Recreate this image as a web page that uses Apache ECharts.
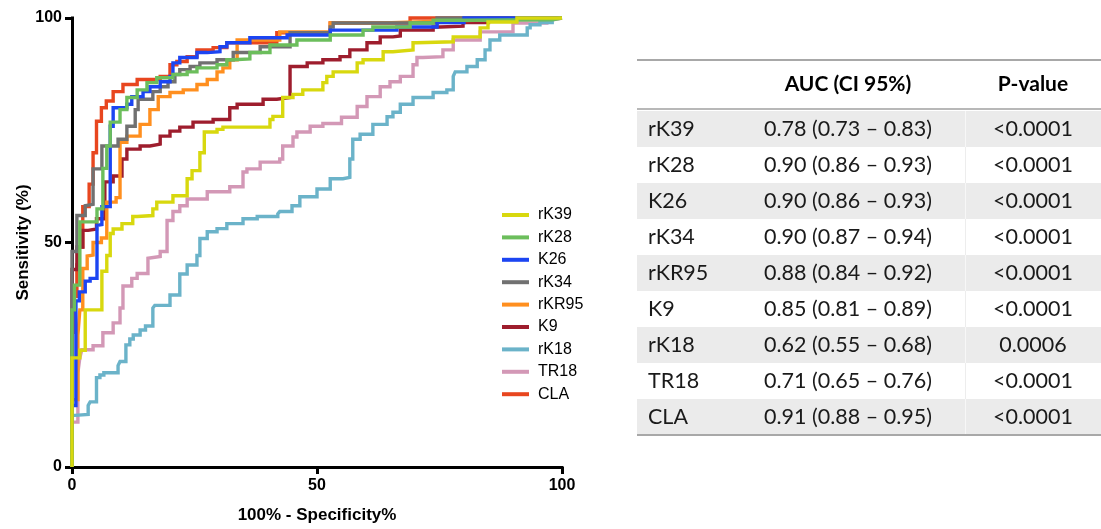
<!DOCTYPE html>
<html><head><meta charset="utf-8">
<script src="https://cdn.jsdelivr.net/npm/echarts@6/dist/echarts.min.js"></script>
<style>html,body{margin:0;padding:0;background:#fff}#c{width:1101px;height:529px}</style>
</head><body><div id="c"></div>
<script>
// ---- data ----
const seriesNames = ['rK39','rK28','K26','rK34','rKR95','K9','rK18','TR18','CLA'];
const seriesColors = ['#D8D80E','#6CBE5C','#1C45F2','#717171','#FF8F1F','#9E1D2D','#6BB3C9','#D398B6','#E8461F'];

const rK39 = [[0,0],[0,22.8],[1.6,24.3],[1.6,26],[2.7,26],[2.7,35],[6.1,35],[6.1,43],[7.1,43.6],[7.8,47.1],[8.4,52],[10.2,53],[12.4,54.2],[13.3,55.8],[16.5,56],[17.3,57.5],[20.6,59],[23.5,60.4],[24.5,64.2],[26.1,66],[26.1,68.6],[27,70],[29.6,74.6],[30.8,75.2],[32.2,75.7],[40.4,75.7],[41,77.4],[43,78.1],[45.1,82.3],[47.1,83],[51.2,84],[52,85.6],[53.3,87],[58.2,88],[59.4,90],[63.5,90.7],[65.5,92.5],[69.6,92.9],[70.4,94.5],[77.8,94.7],[83.3,95.8],[84.9,97.8],[90.8,99.1],[92,100],[100,100]];
const rK28 = [[0,0],[0,25],[0.5,35],[0.5,40.5],[1.6,40.5],[1.6,53],[3.1,54.6],[5.1,54.6],[5.1,57.5],[6.3,57.5],[6.3,65.7],[7.1,66.5],[7.8,71.5],[9.8,76.8],[11.2,79.6],[13.3,82.3],[15.3,84],[17.3,85.6],[20.6,86.7],[23.5,87.4],[25.5,88],[29.6,88.9],[31.6,89.6],[32.9,90.7],[36.3,90.9],[40.4,92.3],[45.9,94],[52.7,95.1],[59.4,96.2],[61.4,97.3],[69,98],[73.7,98.9],[80,99.5],[98,99.6],[100,100]];
const K26 = [[0,0],[0,13.7],[0.8,13.7],[0.8,35],[1.5,37],[2.7,39],[3.7,41.4],[5.1,42],[5.1,53.8],[6.1,54],[7.8,58],[7.8,66.4],[8.4,75.9],[11.2,80],[12.2,80.8],[14.5,82.5],[15.9,83.6],[18,84.7],[20,85.8],[20.6,87],[22,90],[25.5,91.2],[27.6,92.3],[30.2,92.5],[31.6,93.6],[36.3,94.5],[43.9,95.6],[52.7,96.2],[66.3,97.3],[67,98],[74.5,98],[80,99],[86.7,100],[100,100]];
const rK34 = [[0,0],[0,48],[1,48],[1,56],[2.7,56],[2.7,58.2],[4.3,58.5],[4.3,64.8],[6.1,66.4],[6.1,68.6],[9.4,71.5],[11.2,73],[12.9,75.9],[13.5,79.6],[14.5,81.9],[16.5,81.9],[18,83.6],[19.6,84.7],[21,85.8],[22,87.4],[24.1,88.5],[26.1,89.2],[29.6,90],[32.9,90.7],[38.4,92.3],[44.5,93.6],[52.7,96.7],[53.3,98],[69,98.9],[74.5,98.9],[75.1,100],[100,100]];
const rKR95 = [[0,0],[0,15],[1.2,15],[1.2,29.4],[1.6,29.4],[1.6,35],[2.2,35],[2.2,44.2],[3.1,44.2],[3.1,47],[4.3,47.2],[4.3,48.7],[6,50],[7.1,51],[7.1,58.2],[9,59],[9.8,60],[9.8,69.2],[11.2,72.3],[13.9,73.7],[15.9,76.3],[17.6,79.6],[20,82.5],[22.7,83.4],[25.5,84],[27.6,85.2],[29.6,86.3],[30.8,88],[32.2,88.9],[33.7,90.7],[33.7,92.5],[42.4,95.1],[52.7,96.9],[63.5,98.9],[75,99.3],[87,99.6],[90,100],[100,100]];
const K9 = [[0,0],[0,44],[1,44],[1,48],[2.2,49],[2.2,51],[3.3,52.7],[5,53],[6.7,55.3],[6.7,60],[8.4,63.5],[10.2,64.8],[10.2,66.4],[11.2,68.6],[13.9,70.8],[15.9,71.5],[18,71.9],[20,73.7],[22,74.8],[24.7,75.7],[28.8,76.8],[32.2,77.4],[33.7,80],[39,80.8],[41.8,81.9],[44.5,82.3],[44.5,87.4],[48,89.2],[51.2,90],[54.7,90.7],[56.7,91.4],[60.2,92.9],[62.9,94.5],[65.5,95.8],[67,96],[73.7,97.3],[75.1,98],[79.8,98.2],[85,99],[90,100],[100,100]];
const rK18 = [[0,0],[0,9.5],[0.6,11.5],[3.3,11.7],[3.7,13.7],[5,14.5],[5.7,19.9],[6.5,20.5],[9.4,21],[9.8,22.6],[11,23.5],[11.8,27.2],[12.5,28.5],[13.9,29.4],[15,30.5],[16.5,31.4],[16.9,35.4],[20,36],[22,38.3],[23.5,43],[25.5,45],[26.1,47.1],[27.6,50.9],[29.6,52.4],[31.6,53.1],[34.9,54.2],[37.8,55.3],[42,55.8],[42.4,56.4],[44.9,56.9],[46.5,58.2],[50,60.2],[52.7,61.9],[55.3,64.2],[56.7,64.5],[56.7,67],[57.3,68.6],[57.3,71.5],[58.8,73],[61.4,74.1],[64.3,76.3],[65.5,78],[67,79],[69.6,80.8],[73.7,82.3],[76.5,83.4],[77.8,84],[78.2,87],[80.6,88],[82.7,89.2],[84.3,90.7],[85.3,92.9],[87.3,95.1],[90,96.2],[92.9,96.2],[93.5,97.8],[95.5,98.5],[98,99],[100,100]];
const TR18 = [[0,0],[0,10],[1.2,10],[1.2,14.8],[1.6,21],[2,24.3],[2.7,26.1],[4.3,26.1],[6.3,27],[8.4,29.9],[9.8,32.1],[10.4,35.4],[10.4,38.3],[12.2,40.3],[13.3,42],[15.5,43.1],[15.9,46.5],[18,46.9],[19.4,48],[19.4,53.8],[20.6,54.9],[22,56.9],[23.5,58.2],[27.6,59.7],[30.8,61.3],[32.2,61.3],[34.9,62.4],[35.7,65.7],[38.4,66.4],[42.4,67.9],[43,68.6],[45.1,71.5],[45.9,73.5],[48.6,74.6],[51.2,75.9],[55,76.5],[58.2,77.9],[60.2,80.3],[62.9,82.5],[64.9,84.7],[67,85.8],[69.6,87],[70.4,89.6],[71.6,91.2],[75.7,91.4],[77.8,92.9],[83.3,95.1],[90,96.9],[90,98],[96.9,98.9],[98.2,99.6],[100,100]];
const CLA = [[0,0],[0,15],[0.5,30],[1,38],[1.5,45],[2.2,49],[2.2,57],[3.5,58],[4.3,63],[4.3,68],[5,70],[6,77],[7,80],[8.4,81.5],[10.4,83.6],[13.3,85.2],[18,86.3],[20,87],[21.4,89.6],[23.5,90.3],[25.5,91.4],[28.8,92.9],[31.6,93.4],[35.7,94.5],[41.8,94.5],[47,96.7],[52.7,96.7],[63,98.9],[69,98.9],[75,100],[100,100]];
const seriesData = [rK39, rK28, K26, rK34, rKR95, K9, rK18, TR18, CLA];

const tableHeader = ['', 'AUC (CI 95%)', 'P-value'];
const tableNames = ['rK39','rK28','K26','rK34','rKR95','K9','rK18','TR18','CLA'];
const aucValues = ['0.78 (0.73 \u2013 0.83)','0.90 (0.86 \u2013 0.93)','0.90 (0.86 \u2013 0.93)','0.90 (0.87 \u2013 0.94)','0.88 (0.84 \u2013 0.92)','0.85 (0.81 \u2013 0.89)','0.62 (0.55 \u2013 0.68)','0.71 (0.65 \u2013 0.76)','0.91 (0.88 \u2013 0.95)'];
const pValues = ['<0.0001','<0.0001','<0.0001','<0.0001','<0.0001','<0.0001','0.0006','<0.0001','<0.0001'];

// ---- chart ----
const chart = echarts.init(document.getElementById('c'), null, {renderer: 'canvas'});
const axisFont = 'Liberation Sans, Arial, Helvetica, sans-serif';
const tableFont = 'Lato, "Open Sans", sans-serif';

const series = [];
for (let i = seriesNames.length - 1; i >= 0; i--) {
  series.push({
    name: seriesNames[i], type: 'line', data: seriesData[i], step: 'start',
    symbol: 'none', clip: false, color: seriesColors[i],
    lineStyle: {width: 3.4, color: seriesColors[i], join: 'miter'},
    emphasis: {disabled: true}, z: 10 + (seriesNames.length - i)
  });
}

// table graphic
const tX = 637, tW = 464, rowTop = 111, rowH = 36, headTop = 60;
const colNameX = 648, colAucX = 848, colPX = 1033, divX = 965;
const bodyFont = '21.5px ' + tableFont;
const graphics = [];
tableNames.forEach((n, i) => {
  const y = rowTop + i * rowH;
  if (i % 2 === 0) {
    graphics.push({type: 'rect', shape: {x: tX, y: y, width: tW, height: rowH}, style: {fill: '#EBEBEB'}, silent: true});
  }
  graphics.push({type: 'rect', shape: {x: divX, y: y, width: 1, height: rowH}, style: {fill: i % 2 === 0 ? '#F7F7F7' : '#EDEDED'}, silent: true});
  graphics.push({type: 'text', x: colNameX, y: y + rowH / 2, style: {text: n, font: bodyFont, fill: '#1a1a1a', textAlign: 'left', textVerticalAlign: 'middle'}, silent: true});
  graphics.push({type: 'text', x: colAucX, y: y + rowH / 2, style: {text: aucValues[i], font: bodyFont, fill: '#1a1a1a', textAlign: 'center', textVerticalAlign: 'middle'}, silent: true});
  graphics.push({type: 'text', x: colPX, y: y + rowH / 2, style: {text: pValues[i], font: bodyFont, fill: '#1a1a1a', textAlign: 'center', textVerticalAlign: 'middle'}, silent: true});
});
graphics.push({type: 'rect', shape: {x: tX, y: headTop - 1, width: tW, height: 2}, style: {fill: '#A8A8A8'}, silent: true});
graphics.push({type: 'rect', shape: {x: tX, y: rowTop - 3, width: tW, height: 2}, style: {fill: '#B8B8B8'}, silent: true});
graphics.push({type: 'rect', shape: {x: tX, y: rowTop + tableNames.length * rowH - 1, width: tW, height: 2}, style: {fill: '#A8A8A8'}, silent: true});
graphics.push({type: 'text', x: colAucX, y: 84, style: {text: tableHeader[1], font: 'bold 21px ' + tableFont, fill: '#000', textAlign: 'center', textVerticalAlign: 'middle'}, silent: true});
graphics.push({type: 'text', x: colPX, y: 84, style: {text: tableHeader[2], font: 'bold 21px ' + tableFont, fill: '#000', textAlign: 'center', textVerticalAlign: 'middle'}, silent: true});

const option = {
  animation: false,
  backgroundColor: '#fff',
  grid: {left: 72, right: 539, top: 18, bottom: 59, containLabel: false},
  xAxis: {
    type: 'value', min: 0, max: 100, interval: 50,
    name: '100% - Specificity%', nameLocation: 'middle', nameGap: 40,
    nameTextStyle: {fontFamily: axisFont, fontWeight: 'bold', fontSize: 17, color: '#000'},
    axisLine: {show: true, onZero: false, lineStyle: {color: '#000', width: 3, cap: 'square'}},
    axisTick: {show: true, length: 7, lineStyle: {color: '#000', width: 3}},
    axisLabel: {fontFamily: axisFont, fontWeight: 'bold', fontSize: 16, color: '#000', margin: 11},
    splitLine: {show: false}
  },
  yAxis: {
    type: 'value', min: 0, max: 100, interval: 50,
    name: 'Sensitivity (%)', nameLocation: 'middle', nameGap: 36,
    nameTextStyle: {fontFamily: axisFont, fontWeight: 'bold', fontSize: 17, color: '#000'},
    axisLine: {show: true, onZero: false, lineStyle: {color: '#000', width: 3, cap: 'square'}},
    axisTick: {show: true, length: 7, lineStyle: {color: '#000', width: 3}},
    axisLabel: {fontFamily: axisFont, fontWeight: 'bold', fontSize: 16, color: '#000', margin: 10},
    splitLine: {show: false}
  },
  legend: {
    data: seriesNames, orient: 'vertical', left: 497, top: 202,
    icon: 'rect', itemWidth: 27, itemHeight: 4, itemGap: 6.4,
    selectedMode: false,
    textStyle: {fontFamily: axisFont, fontSize: 16, color: '#000', lineHeight: 15, padding: [0, 0, 0, 4]}
  },
  series: series,
  graphic: graphics
};
chart.setOption(option);
</script>
</body></html>
